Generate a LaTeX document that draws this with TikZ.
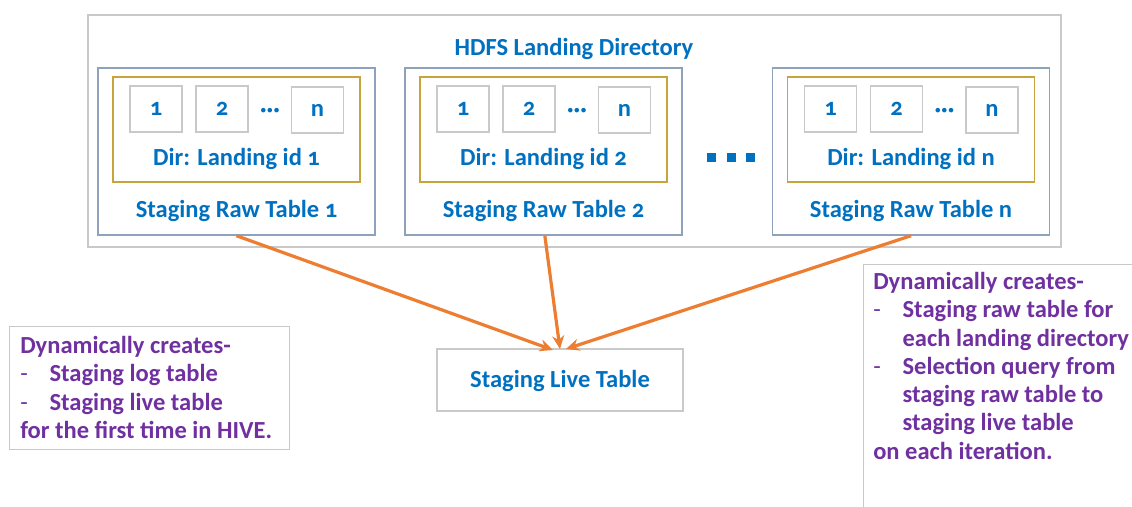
\documentclass[tikz,border=0pt]{standalone}
\usepackage{fontspec}
\setmainfont{Carlito}[Numbers=OldStyle]
\usetikzlibrary{arrows.meta}
\definecolor{hblue}{HTML}{0070C0}
\definecolor{hpurple}{HTML}{7030A0}
\definecolor{horange}{HTML}{ED7D31}
\definecolor{hgray}{HTML}{C9C9C9}
\definecolor{hslate}{HTML}{8EA2BE}
\definecolor{hgold}{HTML}{C9A43C}
\newcommand{\lbl}{\fontsize{18.4}{21.2}\selectfont\bfseries}
\newcommand{\dashitem}[1]{\makebox[22pt][l]{\mdseries -}#1}
\begin{document}
\begin{tikzpicture}[x=0.75pt,y=-0.75pt,
  wh/.style 2 args={minimum width=#1*0.75pt, minimum height=#2*0.75pt, inner sep=0pt},
  frame/.style={draw=hgray, line width=1pt},
  stagebox/.style={draw=hslate, line width=1.1pt},
  dirbox/.style={draw=hgold, line width=1.1pt},
  cell/.style={draw=hgray, line width=1.3pt},
  bluetext/.style={text=hblue, font=\lbl, inner sep=0pt},
  notetext/.style={text=hpurple, font=\lbl, align=left, inner sep=0pt, anchor=north west},
  flow/.style={draw=horange, line width=2.4pt, -{Stealth[length=10pt,width=9pt]}}]
\useasboundingbox (0,0) rectangle (1132,507);
\clip (0,0) rectangle (1132,507);

% HDFS landing directory frame
\node[frame, wh={973}{232}] (hdfs) at (574.5,131) {};
\node[bluetext] (hdfslbl) at (574,48.5) {HDFS Landing Directory};

% staging raw tables, each holding one landing directory
\foreach \i/\cx/\lab in {1/236.5/1, 2/543.5/2, 3/911/n} {
  \node[stagebox, wh={277}{167}] (s\i) at (\cx,151.5) {};
  \node[dirbox, wh={247}{105}] (d\i) at (\cx,129.5) {};
  \node[cell, wh={52}{46}, bluetext] (c\i-1) at (\cx-80.5,109) {1};
  \node[cell, wh={52}{46}, bluetext] (c\i-2) at (\cx-14.5,109) {2};
  \node[cell, wh={52}{46}, bluetext] (c\i-n) at (\cx+81,110) {n};
  \node[bluetext] (e\i) at (\cx+33.5,113) {\textperiodcentered\textperiodcentered\textperiodcentered};
  \node[bluetext] (dl\i) at (\cx,158.5) {Dir: Landing id \lab};
  \node[bluetext] (sl\i) at (\cx,211) {Staging Raw Table \lab};
}

% gap marker between table 2 and table n
\foreach \k/\qx in {1/711, 2/731, 3/750}
  \node[fill=hblue, wh={9}{9}] (q\k) at (\qx,157) {};

% live table and the flows into it
\node[frame, wh={246}{62}] (live) at (560,380) {};
\node[bluetext] (livelbl) at (560,381) {Staging Live Table};
\coordinate (inL) at (553,350);
\coordinate (inM) at (560,349);
\coordinate (inR) at (566,349);
\draw[flow] (s1.south) -- (inL);
\draw[flow] ([xshift=1pt]s2.south) -- (inM);
\draw[flow] (s3.south) -- (inR);

% notes
\node[frame, wh={280}{123}, anchor=north west] (lnote) at (9,326) {};
\node[notetext] (lnotetxt) at (20,336) {Dynamically creates-\\
  \dashitem{Staging log table}\\
  \dashitem{Staging live table}\\
  for the first time in HIVE.};

\node[frame, wh={300}{280}, anchor=north west] (rnote) at (863,264) {};
\node[notetext] (rnotetxt) at (873,272) {Dynamically creates-\\
  \dashitem{Staging raw table for}\\
  \hspace*{22pt}each landing directory\\
  \dashitem{Selection query from}\\
  \hspace*{22pt}staging raw table to\\
  \hspace*{22pt}staging live table\\
  on each iteration.};
\end{tikzpicture}
\end{document}
